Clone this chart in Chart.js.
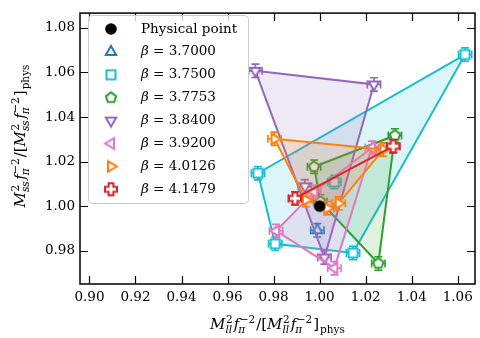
<!DOCTYPE html>
<html>
<head>
<meta charset="utf-8">
<script src="https://cdn.jsdelivr.net/npm/chart.js@4.4.1/dist/chart.umd.min.js"></script>
<style>
  html, body { margin: 0; padding: 0; background: #fff; }
</style>
</head>
<body>
<canvas id="chart" width="480" height="338"></canvas>
<script>
// Tick labels and axis ranges
const xTicks = [0.90, 0.92, 0.94, 0.96, 0.98, 1.00, 1.02, 1.04, 1.06];
const yTicks = [0.98, 1.00, 1.02, 1.04, 1.06, 1.08];
const xRange = [0.8959, 1.0675];
const yRange = [0.9651, 1.0866];

// Physical point
const physX = [1.0];
const physY = [1.0];

// One group per beta: x = M_ll^2 ratio, y = M_ss^2 ratio, errors, hull order
const betaLabels = ["3.7000", "3.7500", "3.7753", "3.8400", "3.9200", "4.0126", "4.1479"];
const betaColors = ["#1f77b4", "#17becf", "#2ca02c", "#9467bd", "#e377c2", "#ff7f0e", "#d62728"];
const betaMarkers = ["triangleUp", "square", "pentagon", "triangleDown", "triangleLeft", "triangleRight", "plus"];

const x3700 = [0.9990];
const y3700 = [0.9892];
const hull3700 = [0];

const x3750 = [1.0632, 0.9732, 1.0064, 0.9807, 1.0145];
const y3750 = [1.0680, 1.0148, 1.0108, 0.9831, 0.9790];
const hull3750 = [0, 1, 3, 4];

const x3775 = [1.0327, 0.9976, 1.0003, 1.0255];
const y3775 = [1.0317, 1.0177, 1.0021, 0.9743];
const hull3775 = [0, 1, 2, 3];

const x3840 = [0.9721, 1.0236, 1.0021, 0.9936];
const y3840 = [1.0607, 1.0546, 0.9770, 1.0089];
const hull3840 = [0, 1, 2];

const x3920 = [1.0227, 0.9976, 0.9811, 1.0064];
const y3920 = [1.0262, 1.0064, 0.9889, 0.9722];
const hull3920 = [0, 1, 2, 3];

const x4013 = [0.9804, 1.0277, 1.0083, 1.0033, 0.9940];
const y4013 = [1.0302, 1.0254, 1.0013, 0.9991, 1.0028];
const hull4013 = [0, 1, 2, 3, 4];

const x4148 = [1.0320, 0.9893];
const y4148 = [1.0269, 1.0035];
const hull4148 = [0, 1];

const betaX = [x3700, x3750, x3775, x3840, x3920, x4013, x4148];
const betaY = [y3700, y3750, y3775, y3840, y3920, y4013, y4148];
const betaHull = [hull3700, hull3750, hull3775, hull3840, hull3920, hull4013, hull4148];

// error bars (same size on every point)
const xErr = 0.0029;
const yErr = 0.0030;

const FONT = "'DejaVu Serif', serif";

function withAlpha(hex, a) {
  const n = parseInt(hex.slice(1), 16);
  return `rgba(${(n >> 16) & 255}, ${(n >> 8) & 255}, ${n & 255}, ${a})`;
}

// Small canvases used as point styles
function makeMarker(shape, color) {
  const c = document.createElement("canvas");
  c.width = 18;
  c.height = 18;
  const g = c.getContext("2d");
  const cx = 9, cy = 9;
  g.lineWidth = 2;
  g.lineJoin = "miter";
  g.strokeStyle = color;
  g.fillStyle = "#fff";
  g.beginPath();
  if (shape === "circle") {
    g.arc(cx, cy, 5.8, 0, Math.PI * 2);
    g.fillStyle = color;
    g.fill();
    return c;
  }
  if (shape === "square") {
    g.rect(cx - 4.5, cy - 4.5, 9, 9);
  } else if (shape === "plus") {
    const a = 2.4, b = 6;
    const pts = [[-a, -b], [a, -b], [a, -a], [b, -a], [b, a], [a, a], [a, b], [-a, b], [-a, a], [-b, a], [-b, -a], [-a, -a]];
    pts.forEach((p, i) => (i ? g.lineTo(cx + p[0], cy + p[1]) : g.moveTo(cx + p[0], cy + p[1])));
  } else {
    const spec = {
      triangleUp: [3, -90, 6],
      triangleDown: [3, 90, 6],
      triangleLeft: [3, 180, 6],
      triangleRight: [3, 0, 6],
      pentagon: [5, -90, 5.4],
    }[shape];
    const [n, start, r] = spec;
    for (let i = 0; i < n; i++) {
      const ang = ((start + (360 / n) * i) * Math.PI) / 180;
      const px = cx + r * Math.cos(ang), py = cy + r * Math.sin(ang);
      i ? g.lineTo(px, py) : g.moveTo(px, py);
    }
  }
  g.closePath();
  g.fill();
  g.stroke();
  return c;
}

const physMarker = makeMarker("circle", "#000");
const betaMarkerImgs = betaMarkers.map((m, i) => makeMarker(m, betaColors[i]));

// Build datasets: hull polygon (filled) + points with error bars
function buildDatasets() {
  const datasets = [];
  const n = betaLabels.length;
  betaLabels.forEach((label, i) => {
    const xs = betaX[i], ys = betaY[i];
    const hullPts = betaHull[i].map((k) => ({ x: xs[k], y: ys[k] }));
    if (hullPts.length > 2) hullPts.push(hullPts[0]);
    datasets.push({
      label: "hull " + label,
      data: hullPts,
      showLine: true,
      fill: hullPts.length > 3 ? "shape" : false,
      backgroundColor: withAlpha(betaColors[i], 0.15),
      borderColor: betaColors[i],
      borderWidth: 2,
      pointRadius: 0,
      tension: 0,
      order: 2 * (n - i) + 1,
    });
    datasets.push({
      label: "\u03b2 = " + label,
      data: xs.map((x, k) => ({ x: x, y: ys[k] })),
      showLine: false,
      pointStyle: betaMarkerImgs[i],
      errColor: betaColors[i],
      errX: xErr,
      errY: yErr,
      order: 2 * (n - i),
    });
  });
  datasets.push({
    label: "Physical point",
    data: physX.map((x, k) => ({ x: x, y: physY[k] })),
    showLine: false,
    pointStyle: physMarker,
    order: 0,
  });
  return datasets;
}

// Error bars drawn just before each point dataset
const errorBarPlugin = {
  id: "errorBars",
  beforeDatasetDraw(chart, args) {
    const ds = chart.data.datasets[args.index];
    if (!ds.errX) return;
    const ctx = chart.ctx;
    const xs = chart.scales.x, ys = chart.scales.y;
    const cap = 4;
    ctx.save();
    ctx.strokeStyle = ds.errColor;
    ctx.lineWidth = 1.6;
    ds.data.forEach((p) => {
      const px = xs.getPixelForValue(p.x), py = ys.getPixelForValue(p.y);
      const x0 = xs.getPixelForValue(p.x - ds.errX), x1 = xs.getPixelForValue(p.x + ds.errX);
      const y0 = ys.getPixelForValue(p.y - ds.errY), y1 = ys.getPixelForValue(p.y + ds.errY);
      ctx.beginPath();
      ctx.moveTo(x0, py); ctx.lineTo(x1, py);
      ctx.moveTo(px, y0); ctx.lineTo(px, y1);
      ctx.moveTo(x0, py - cap); ctx.lineTo(x0, py + cap);
      ctx.moveTo(x1, py - cap); ctx.lineTo(x1, py + cap);
      ctx.moveTo(px - cap, y0); ctx.lineTo(px + cap, y0);
      ctx.moveTo(px - cap, y1); ctx.lineTo(px + cap, y1);
      ctx.stroke();
    });
    ctx.restore();
  },
};

// Math-like text: runs with optional stacked super/subscripts
function mathParts(sub) {
  return [
    { b: "M", sup: "2", sub: sub },
    { b: "f", sup: "\u22122", sub: "\u03c0" },
    { t: "/[" },
    { b: "M", sup: "2", sub: sub },
    { b: "f", sup: "\u22122", sub: "\u03c0" },
    { t: "]" },
    { s: "phys" },
  ];
}

function drawMath(ctx, parts, cx, baseY) {
  const big = 15, small = 10.5;
  const fIt = `italic ${big}px ${FONT}`, fRm = `${big}px ${FONT}`;
  const sIt = `italic ${small}px ${FONT}`, sRm = `${small}px ${FONT}`;
  const widthOf = (p) => {
    if (p.t) { ctx.font = fRm; return ctx.measureText(p.t).width; }
    if (p.s) { ctx.font = sRm; return ctx.measureText(p.s).width + 1; }
    ctx.font = fIt;
    const bw = ctx.measureText(p.b).width;
    ctx.font = sRm;
    const supW = ctx.measureText(p.sup).width;
    ctx.font = sIt;
    const subW = ctx.measureText(p.sub).width;
    return bw + Math.max(supW, subW) + 1.5;
  };
  const total = parts.reduce((a, p) => a + widthOf(p), 0);
  let x = cx - total / 2;
  ctx.fillStyle = "#000";
  ctx.textBaseline = "alphabetic";
  ctx.textAlign = "left";
  parts.forEach((p) => {
    const w = widthOf(p);
    if (p.t) { ctx.font = fRm; ctx.fillText(p.t, x, baseY); }
    else if (p.s) { ctx.font = sRm; ctx.fillText(p.s, x + 1, baseY + 4); }
    else {
      ctx.font = fIt;
      ctx.fillText(p.b, x, baseY);
      const bw = ctx.measureText(p.b).width;
      ctx.font = sRm;
      ctx.fillText(p.sup, x + bw + 0.5, baseY - 6.5);
      ctx.font = sIt;
      ctx.fillText(p.sub, x + bw - (p.b === "f" ? 1 : 0), baseY + 4);
    }
    x += w;
  });
}

// Frame with inward ticks, axis titles and legend
const decorPlugin = {
  id: "decor",
  afterDatasetsDraw(chart) {
    const ctx = chart.ctx;
    const a = chart.chartArea;
    const xs = chart.scales.x, ys = chart.scales.y;
    const tl = 8;
    ctx.save();
    ctx.strokeStyle = "#000";
    ctx.lineWidth = 1.2;
    ctx.beginPath();
    xTicks.forEach((v) => {
      const px = Math.round(xs.getPixelForValue(v)) + 0.5;
      ctx.moveTo(px, a.bottom); ctx.lineTo(px, a.bottom - tl);
      ctx.moveTo(px, a.top); ctx.lineTo(px, a.top + tl);
    });
    yTicks.forEach((v) => {
      const py = Math.round(ys.getPixelForValue(v)) + 0.5;
      ctx.moveTo(a.left, py); ctx.lineTo(a.left + tl, py);
      ctx.moveTo(a.right, py); ctx.lineTo(a.right - tl, py);
    });
    ctx.stroke();
    ctx.lineWidth = 1.5;
    ctx.strokeRect(a.left, a.top, a.right - a.left, a.bottom - a.top);

    // axis titles
    drawMath(ctx, mathParts("ll"), (a.left + a.right) / 2, 329);
    ctx.save();
    ctx.translate(25, 136);
    ctx.rotate(-Math.PI / 2);
    drawMath(ctx, mathParts("ss"), 0, 0);
    ctx.restore();

    // legend
    const lx = 88.5, ly = 15.5, lw = 160, lh = 188, r = 4;
    ctx.beginPath();
    ctx.roundRect(lx, ly, lw, lh, r);
    ctx.fillStyle = "rgba(255,255,255,0.8)";
    ctx.fill();
    ctx.strokeStyle = "#cccccc";
    ctx.lineWidth = 1;
    ctx.stroke();

    const rows = [{ img: physMarker, label: "Physical point" }].concat(
      betaLabels.map((b, i) => ({ img: betaMarkerImgs[i], beta: b }))
    );
    rows.forEach((row, i) => {
      const cy = 29 + i * 22.9;
      ctx.drawImage(row.img, 111 - row.img.width / 2, cy - row.img.height / 2);
      ctx.fillStyle = "#000";
      ctx.textBaseline = "middle";
      ctx.textAlign = "left";
      if (row.label) {
        ctx.font = `13.5px ${FONT}`;
        ctx.fillText(row.label, 141, cy);
      } else {
        ctx.font = `italic 13.5px ${FONT}`;
        ctx.fillText("\u03b2", 141, cy);
        const bw = ctx.measureText("\u03b2").width;
        ctx.font = `13.5px ${FONT}`;
        ctx.fillText(" = " + row.beta, 141 + bw, cy);
      }
    });
    ctx.restore();
  },
};

function initChart() {
  const config = {
    type: "scatter",
    data: { datasets: buildDatasets() },
    options: {
      responsive: false,
      animation: false,
      devicePixelRatio: 1,
      layout: { padding: { top: 7, right: 1, left: 0, bottom: 0 } },
      plugins: { legend: { display: false }, tooltip: { enabled: false } },
      scales: {
        x: {
          type: "linear",
          min: xRange[0],
          max: xRange[1],
          grid: { display: false, drawTicks: false },
          border: { display: false },
          ticks: {
            font: { family: FONT, size: 13.5 },
            color: "#000",
            padding: 5,
            autoSkip: false,
            maxRotation: 0,
            callback: (v) => v.toFixed(2),
          },
          afterBuildTicks: (s) => { s.ticks = xTicks.map((v) => ({ value: v })); },
          afterFit: (s) => { s.height = 54; },
        },
        y: {
          type: "linear",
          min: yRange[0],
          max: yRange[1],
          grid: { display: false, drawTicks: false },
          border: { display: false },
          ticks: {
            font: { family: FONT, size: 13.5 },
            color: "#000",
            padding: 5,
            autoSkip: false,
            callback: (v) => v.toFixed(2),
          },
          afterBuildTicks: (s) => { s.ticks = yTicks.map((v) => ({ value: v })); },
          afterFit: (s) => { s.width = 80; },
        },
      },
    },
    plugins: [errorBarPlugin, decorPlugin],
  };
  new Chart(document.getElementById("chart"), config);
}

document.addEventListener("DOMContentLoaded", initChart);
</script>
</body>
</html>
